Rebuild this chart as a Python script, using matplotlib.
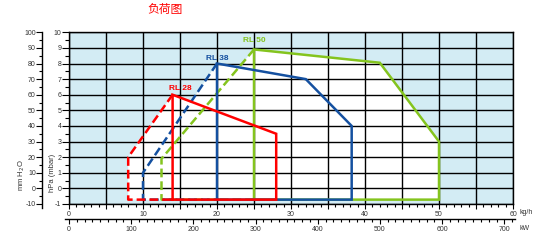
import numpy as np
import matplotlib.pyplot as plt
from matplotlib.ticker import MultipleLocator

plt.rcParams['font.family'] = ['Liberation Sans', 'DejaVu Sans']
plt.rcParams['axes.unicode_minus'] = False

# burner working fields, kg/h vs hPa
# dashed part = start-up range, solid part = modulating range
rl28_dash_x = [14, 8, 8, 14]
rl28_dash_y = [6, 2, -0.72, -0.72]
rl28_x = [14, 14, 28, 28, 14]
rl28_y = [-0.72, 6, 3.5, -0.72, -0.72]

rl38_dash_x = [20, 10, 10, 20]
rl38_dash_y = [8, 1, -0.72, -0.72]
rl38_x = [20, 20, 32, 38.2, 38.2, 20]
rl38_y = [-0.72, 8, 7, 4, -0.72, -0.72]

rl50_dash_x = [25, 12.5, 12.5, 25]
rl50_dash_y = [8.9, 1.9, -0.72, -0.72]
rl50_x = [25, 25, 42, 50, 50, 25]
rl50_y = [-0.72, 8.9, 8.05, 3, -0.72, -0.72]

names = ['RL 28', 'RL 38', 'RL 50']
label_pos = [(15.0, 6.42), (20.0, 8.35), (25.0, 9.45)]
colors = ['#ff0000', '#1450a0', '#84c41e']

kgh_ticks = list(range(0, 61, 5))
hpa_ticks = list(range(-1, 11))
mm_ticks = list(range(-10, 101, 10))
kw_ticks = list(range(0, 701, 100))

W, H = 538, 241
fig = plt.figure(figsize=(W / 100, H / 100), dpi=100)
tc = '#333333'

# main chart
x0, x1, ytop, ybot = 69, 513, 32.3, 204
ax = fig.add_axes([x0 / W, 1 - ybot / H, (x1 - x0) / W, (ybot - ytop) / H])
ax.set_xlim(0, 60)
ax.set_ylim(-1, 10)
ax.set_facecolor('#d3ecf4')
for s in ax.spines.values():
    s.set_linewidth(1.0)
    s.set_color('black')
ax.set_xticks(kgh_ticks)
ax.set_xticklabels([str(v) if v % 10 == 0 else '' for v in kgh_ticks])
ax.xaxis.set_minor_locator(MultipleLocator(1))
ax.set_yticks(hpa_ticks)
ax.set_yticklabels([str(v) for v in hpa_ticks])
ax.yaxis.set_minor_locator(MultipleLocator(0.5))
ax.grid(True, which='major', color='black', lw=1.0)
ax.set_axisbelow(True)
ax.tick_params(which='both', labelsize=5, labelcolor=tc, width=0.8, color='black')
ax.tick_params(axis='y', which='major', length=5, pad=0.5)
ax.tick_params(axis='y', which='minor', length=3)
ax.tick_params(axis='x', which='major', length=3.5, pad=1.5)
ax.tick_params(axis='x', which='minor', length=2.2)

series = [(rl50_dash_x, rl50_dash_y, rl50_x, rl50_y, colors[2]),
          (rl38_dash_x, rl38_dash_y, rl38_x, rl38_y, colors[1]),
          (rl28_dash_x, rl28_dash_y, rl28_x, rl28_y, colors[0])]

# white working area: outline of dashed + solid parts
for dx, dy, sx, sy, c in series:
    px = [dx[2], dx[1]] + sx[1:-1]
    py = [dy[2], dy[1]] + sy[1:-1]
    ax.fill(px, py, color='white', lw=0, zorder=0.2)

for dx, dy, sx, sy, c in series:
    ax.plot(dx, dy, color=c, lw=1.8, dashes=(3.5, 1.6), zorder=3, solid_capstyle='butt')
    ax.plot(sx, sy, color=c, lw=1.8, zorder=3, solid_joinstyle='miter')

for n, (lx, ly), c in zip(names, label_pos, colors):
    ax.text(lx, ly, n, color=c, fontsize=6, fontweight='bold', ha='center', va='center', zorder=4)

fig.text(519 / W, 1 - 213 / H, 'kg/h', ha='left', va='center', fontsize=5, color=tc)

# mm H2O axis
axm = fig.add_axes([42 / W, 1 - 208 / H, 0.001, (208 - ytop) / H])
axm.set_ylim(-12.6, 100)
axm.patch.set_visible(False)
for k in ['top', 'right', 'bottom']:
    axm.spines[k].set_visible(False)
axm.spines['left'].set_linewidth(1.0)
axm.set_xticks([])
axm.set_yticks(mm_ticks)
axm.set_yticklabels([str(v) for v in mm_ticks])
axm.yaxis.set_minor_locator(MultipleLocator(5))
axm.tick_params(which='both', labelsize=5, labelcolor=tc, width=0.8)
axm.tick_params(which='major', length=4, pad=0.5)
axm.tick_params(which='minor', length=2)

# kW axis
axk = fig.add_axes([65 / W, 1 - 219 / H, (515 - 65) / W, 0.001])
axk.set_xlim(-6.4, 717.2)
axk.patch.set_visible(False)
for k in ['top', 'right', 'left']:
    axk.spines[k].set_visible(False)
axk.spines['bottom'].set_linewidth(1.0)
axk.set_yticks([])
axk.set_xticks(kw_ticks)
axk.set_xticklabels([str(v) for v in kw_ticks])
axk.xaxis.set_minor_locator(MultipleLocator(12.5))
axk.tick_params(which='both', labelsize=5, labelcolor=tc, width=0.8)
axk.tick_params(which='major', length=3.5, pad=1.5)
axk.tick_params(which='minor', length=2.2)
fig.text(520 / W, 1 - 228 / H, 'kW', ha='left', va='center', fontsize=5, color=tc)

fig.text(22 / W, 1 - 175 / H, 'mm H$_2$O', rotation=90, ha='center', va='center', fontsize=5.5, color=tc)
fig.text(52.5 / W, 1 - 173 / H, 'hPa (mbar)', rotation=90, ha='center', va='center', fontsize=5.5, color=tc)

fig.text(164.5 / W, 1 - 9 / H, '负荷图', color='red', fontsize=8.5,
         family=['Noto Sans CJK SC'], ha='center', va='center')

fig.savefig('out.png', dpi=100)
